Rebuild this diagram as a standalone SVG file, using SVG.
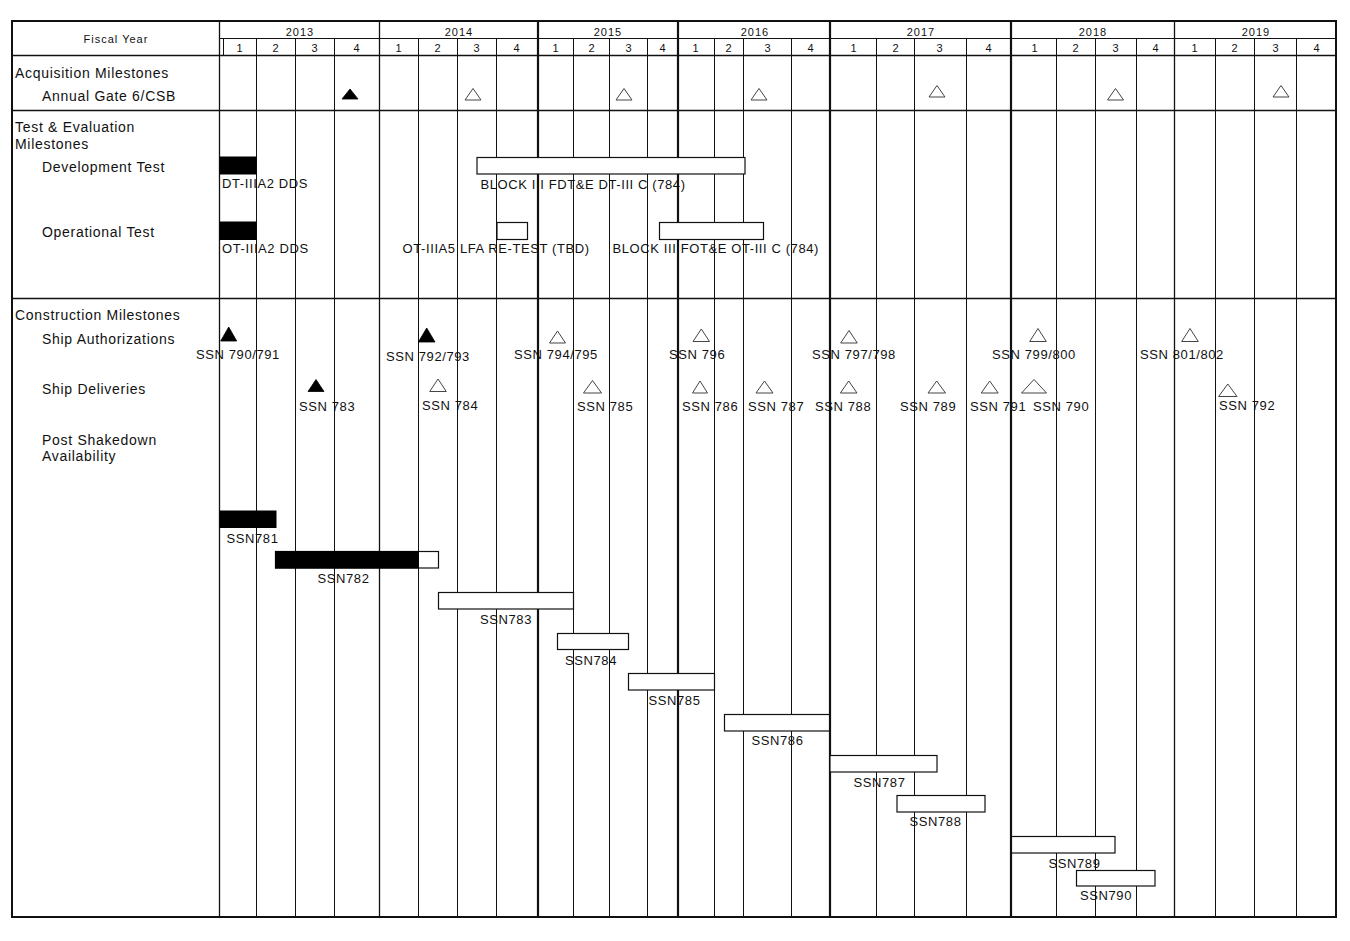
<svg xmlns="http://www.w3.org/2000/svg" width="1350" height="941" viewBox="0 0 1350 941">
<style>
  .bg { fill: #ffffff; }
  .frame { fill: none; stroke: #111; stroke-width: 2; }
  .thin { stroke: #111; stroke-width: 1; fill: none; }
  .mid { stroke: #111; stroke-width: 1.3; fill: none; }
  .thick { stroke: #111; stroke-width: 2.2; fill: none; }
  .hdr { font-family: "Liberation Sans", Arial, sans-serif; font-size: 11px; letter-spacing: 1px; fill: #111; text-anchor: middle; }
  .lbl { font-family: "Liberation Sans", Arial, sans-serif; font-size: 14px; letter-spacing: 0.7px; fill: #111; }
  .tag { font-family: "Liberation Sans", Arial, sans-serif; font-size: 13px; letter-spacing: 0.6px; fill: #111; }
  .tri-f { fill: #000; stroke: #000; stroke-width: 0.8; }
  .tri-o { fill: #fff; stroke: #444; stroke-width: 1; }
  .bar-f { fill: #000; stroke: #000; stroke-width: 1; }
  .bar-o { fill: #fff; stroke: #111; stroke-width: 1.2; }
</style>

<rect class="bg" x="0" y="0" width="1350" height="941"/>

<g id="grid">
  <g id="quarter-lines" class="thin">
    <line x1="223.5" y1="38" x2="223.5" y2="55"/>
    <line x1="256.5" y1="38" x2="256.5" y2="917"/>
    <line x1="295.5" y1="38" x2="295.5" y2="917"/>
    <line x1="334.5" y1="38" x2="334.5" y2="917"/>
    <line x1="418.5" y1="38" x2="418.5" y2="917"/>
    <line x1="457.5" y1="38" x2="457.5" y2="917"/>
    <line x1="496.5" y1="38" x2="496.5" y2="917"/>
    <line x1="573.5" y1="38" x2="573.5" y2="917"/>
    <line x1="609.5" y1="38" x2="609.5" y2="917"/>
    <line x1="647.5" y1="38" x2="647.5" y2="917"/>
    <line x1="714.5" y1="38" x2="714.5" y2="917"/>
    <line x1="743.5" y1="38" x2="743.5" y2="917"/>
    <line x1="791.5" y1="38" x2="791.5" y2="917"/>
    <line x1="876.5" y1="38" x2="876.5" y2="917"/>
    <line x1="914.5" y1="38" x2="914.5" y2="917"/>
    <line x1="966.5" y1="38" x2="966.5" y2="917"/>
    <line x1="1056.5" y1="38" x2="1056.5" y2="917"/>
    <line x1="1095.5" y1="38" x2="1095.5" y2="917"/>
    <line x1="1136.5" y1="38" x2="1136.5" y2="917"/>
    <line x1="1215.5" y1="38" x2="1215.5" y2="917"/>
    <line x1="1254.5" y1="38" x2="1254.5" y2="917"/>
    <line x1="1296.5" y1="38" x2="1296.5" y2="917"/>
  </g>
  <g id="year-lines">
    <line class="mid" x1="219.5" y1="21" x2="219.5" y2="917"/>
    <line class="mid" x1="379.5" y1="21" x2="379.5" y2="917"/>
    <line class="thick" x1="538" y1="21" x2="538" y2="917"/>
    <line class="thick" x1="678" y1="21" x2="678" y2="917"/>
    <line class="thick" x1="830" y1="21" x2="830" y2="917"/>
    <line class="thick" x1="1011" y1="21" x2="1011" y2="917"/>
    <line class="mid" x1="1174.5" y1="21" x2="1174.5" y2="917"/>
  </g>
  <g id="row-lines">
    <line class="thin" x1="219" y1="38.5" x2="1336" y2="38.5"/>
    <line class="mid" x1="12" y1="55.5" x2="1336" y2="55.5"/>
    <line class="mid" x1="12" y1="110.5" x2="1336" y2="110.5"/>
    <line class="mid" x1="12" y1="298.5" x2="1336" y2="298.5"/>
  </g>
  <rect class="frame" x="12" y="21" width="1324" height="896"/>
</g>

<g id="header">
  <text class="hdr" x="116" y="43">Fiscal Year</text>
  <text class="hdr" x="300" y="36">2013</text>
  <text class="hdr" x="459" y="36">2014</text>
  <text class="hdr" x="608" y="36">2015</text>
  <text class="hdr" x="755" y="36">2016</text>
  <text class="hdr" x="921" y="36">2017</text>
  <text class="hdr" x="1093" y="36">2018</text>
  <text class="hdr" x="1256" y="36">2019</text>
  <g id="quarters">
    <text class="hdr" x="240" y="51.5">1</text>
    <text class="hdr" x="276" y="51.5">2</text>
    <text class="hdr" x="315" y="51.5">3</text>
    <text class="hdr" x="357" y="51.5">4</text>
    <text class="hdr" x="399" y="51.5">1</text>
    <text class="hdr" x="438" y="51.5">2</text>
    <text class="hdr" x="477" y="51.5">3</text>
    <text class="hdr" x="517" y="51.5">4</text>
    <text class="hdr" x="556" y="51.5">1</text>
    <text class="hdr" x="592" y="51.5">2</text>
    <text class="hdr" x="629" y="51.5">3</text>
    <text class="hdr" x="663" y="51.5">4</text>
    <text class="hdr" x="696" y="51.5">1</text>
    <text class="hdr" x="729" y="51.5">2</text>
    <text class="hdr" x="768" y="51.5">3</text>
    <text class="hdr" x="811" y="51.5">4</text>
    <text class="hdr" x="854" y="51.5">1</text>
    <text class="hdr" x="896" y="51.5">2</text>
    <text class="hdr" x="940" y="51.5">3</text>
    <text class="hdr" x="989" y="51.5">4</text>
    <text class="hdr" x="1035" y="51.5">1</text>
    <text class="hdr" x="1076" y="51.5">2</text>
    <text class="hdr" x="1116" y="51.5">3</text>
    <text class="hdr" x="1156" y="51.5">4</text>
    <text class="hdr" x="1195" y="51.5">1</text>
    <text class="hdr" x="1235" y="51.5">2</text>
    <text class="hdr" x="1276" y="51.5">3</text>
    <text class="hdr" x="1317" y="51.5">4</text>
  </g>
</g>

<g id="row-labels">
  <text class="lbl" x="15" y="77.5">Acquisition Milestones</text>
  <text class="lbl" x="42" y="101">Annual Gate 6/CSB</text>
  <text class="lbl" x="15" y="132">Test &amp; Evaluation</text>
  <text class="lbl" x="15" y="148.5">Milestones</text>
  <text class="lbl" x="42" y="172">Development Test</text>
  <text class="lbl" x="42" y="237">Operational Test</text>
  <text class="lbl" x="15" y="320">Construction Milestones</text>
  <text class="lbl" x="42" y="344">Ship Authorizations</text>
  <text class="lbl" x="42" y="394">Ship Deliveries</text>
  <text class="lbl" x="42" y="444.5">Post Shakedown</text>
  <text class="lbl" x="42" y="461">Availability</text>
</g>

<g id="annual-gate">
  <g id="gate-2013"><polygon class="tri-f" points="350,89 358,99 342,99"/></g>
  <g id="gate-2014"><polygon class="tri-o" points="473,88.5 481,100 465,100"/></g>
  <g id="gate-2015"><polygon class="tri-o" points="624,88.5 632,100 616,100"/></g>
  <g id="gate-2016"><polygon class="tri-o" points="759,88.5 767,100 751,100"/></g>
  <g id="gate-2017"><polygon class="tri-o" points="937,85.5 945,97 929,97"/></g>
  <g id="gate-2018"><polygon class="tri-o" points="1115.5,88.5 1123.5,100 1107.5,100"/></g>
  <g id="gate-2019"><polygon class="tri-o" points="1281,85.5 1289,97 1273,97"/></g>
</g>

<g id="dev-test">
  <g id="dt-iiia2"><rect class="bar-f" x="220" y="157" width="36" height="17"/><text class="tag" x="222" y="188">DT-IIIA2 DDS</text></g>
  <g id="dt-block3"><rect class="bar-o" x="477" y="157.5" width="268" height="16.5"/><text class="tag" x="480.5" y="188.5">BLOCK III FDT&amp;E DT-III C (784)</text></g>
</g>

<g id="op-test">
  <g id="ot-iiia2"><rect class="bar-f" x="220" y="222" width="36" height="17.5"/><text class="tag" x="222" y="253">OT-IIIA2 DDS</text></g>
  <g id="ot-iiia5"><rect class="bar-o" x="497" y="222.5" width="30.5" height="17"/><text class="tag" x="402.5" y="253">OT-IIIA5 LFA RE-TEST (TBD)</text></g>
  <g id="ot-block3"><rect class="bar-o" x="659.5" y="222.5" width="104" height="17"/><text class="tag" x="612.5" y="253">BLOCK III FOT&amp;E OT-III C (784)</text></g>
</g>

<g id="authorizations">
  <g id="auth-790"><polygon class="tri-f" points="228.7,327 236.7,341 220.7,341"/><text class="tag" x="196" y="359">SSN 790/791</text></g>
  <g id="auth-792"><polygon class="tri-f" points="426.7,328 435,342 418.4,342"/><text class="tag" x="386" y="361">SSN 792/793</text></g>
  <g id="auth-794"><polygon class="tri-o" points="557.5,331 565.5,343 549.5,343"/><text class="tag" x="514" y="359">SSN 794/795</text></g>
  <g id="auth-796"><polygon class="tri-o" points="701.3,329 709.5,341.5 693,341.5"/><text class="tag" x="669" y="358.5">SSN 796</text></g>
  <g id="auth-797"><polygon class="tri-o" points="849,330.5 857.3,343 840.7,343"/><text class="tag" x="812" y="358.5">SSN 797/798</text></g>
  <g id="auth-799"><polygon class="tri-o" points="1038,328.5 1046.3,341.5 1029.7,341.5"/><text class="tag" x="992" y="358.5">SSN 799/800</text></g>
  <g id="auth-801"><polygon class="tri-o" points="1190,328.5 1198.3,341.5 1181.7,341.5"/><text class="tag" x="1140" y="358.5">SSN 801/802</text></g>
</g>

<g id="deliveries">
  <g id="del-783"><polygon class="tri-f" points="316,379.5 324,391.5 308,391.5"/><text class="tag" x="299" y="410.5">SSN 783</text></g>
  <g id="del-784"><polygon class="tri-o" points="438,379 446.3,391.5 429.7,391.5"/><text class="tag" x="422" y="410">SSN 784</text></g>
  <g id="del-785"><polygon class="tri-o" points="592.5,380.5 601.5,393 583.5,393"/><text class="tag" x="577" y="410.5">SSN 785</text></g>
  <g id="del-786"><polygon class="tri-o" points="700,381 707.5,393 692.5,393"/><text class="tag" x="682" y="410.5">SSN 786</text></g>
  <g id="del-787"><polygon class="tri-o" points="764.5,381 773,393 756,393"/><text class="tag" x="748" y="410.5">SSN 787</text></g>
  <g id="del-788"><polygon class="tri-o" points="848.7,381 857,393 840.4,393"/><text class="tag" x="815" y="410.5">SSN 788</text></g>
  <g id="del-789"><polygon class="tri-o" points="936.7,381 945.5,393 928,393"/><text class="tag" x="900" y="410.5">SSN 789</text></g>
  <g id="del-791"><polygon class="tri-o" points="989.7,381 998.2,393 981.2,393"/><text class="tag" x="970" y="410.5">SSN 791</text></g>
  <g id="del-790"><polygon class="tri-o" points="1034,379.5 1046.5,393 1021.5,393"/><text class="tag" x="1033" y="410.5">SSN 790</text></g>
  <g id="del-792"><polygon class="tri-o" points="1227.8,384 1237,396.5 1218.6,396.5"/><text class="tag" x="1219" y="410">SSN 792</text></g>
</g>

<g id="post-shakedown">
  <g id="psa-781"><rect class="bar-f" x="220" y="511" width="56" height="16.5"/><text class="tag" x="226.5" y="542.5">SSN781</text></g>
  <g id="psa-782"><rect class="bar-o" x="275.5" y="551.5" width="163" height="16.5"/><rect class="bar-f" x="275.5" y="551.5" width="143" height="16.5"/><text class="tag" x="317.5" y="582.5">SSN782</text></g>
  <g id="psa-783"><rect class="bar-o" x="438.5" y="592.5" width="135" height="16.5"/><text class="tag" x="480" y="623.5">SSN783</text></g>
  <g id="psa-784"><rect class="bar-o" x="557.5" y="633.5" width="71" height="16"/><text class="tag" x="565" y="665">SSN784</text></g>
  <g id="psa-785"><rect class="bar-o" x="628.5" y="673.5" width="86" height="16.5"/><text class="tag" x="648.5" y="704.5">SSN785</text></g>
  <g id="psa-786"><rect class="bar-o" x="724.5" y="714.5" width="105" height="16.5"/><text class="tag" x="751.5" y="745">SSN786</text></g>
  <g id="psa-787"><rect class="bar-o" x="830" y="755.5" width="107" height="16.5"/><text class="tag" x="853.5" y="786.5">SSN787</text></g>
  <g id="psa-788"><rect class="bar-o" x="897" y="795.5" width="88" height="16.5"/><text class="tag" x="909.5" y="826">SSN788</text></g>
  <g id="psa-789"><rect class="bar-o" x="1011.5" y="836.5" width="103.5" height="16.5"/><text class="tag" x="1048.5" y="867.5">SSN789</text></g>
  <g id="psa-790"><rect class="bar-o" x="1076.5" y="870.5" width="78.5" height="15.5"/><text class="tag" x="1080" y="900">SSN790</text></g>
</g>
</svg>
